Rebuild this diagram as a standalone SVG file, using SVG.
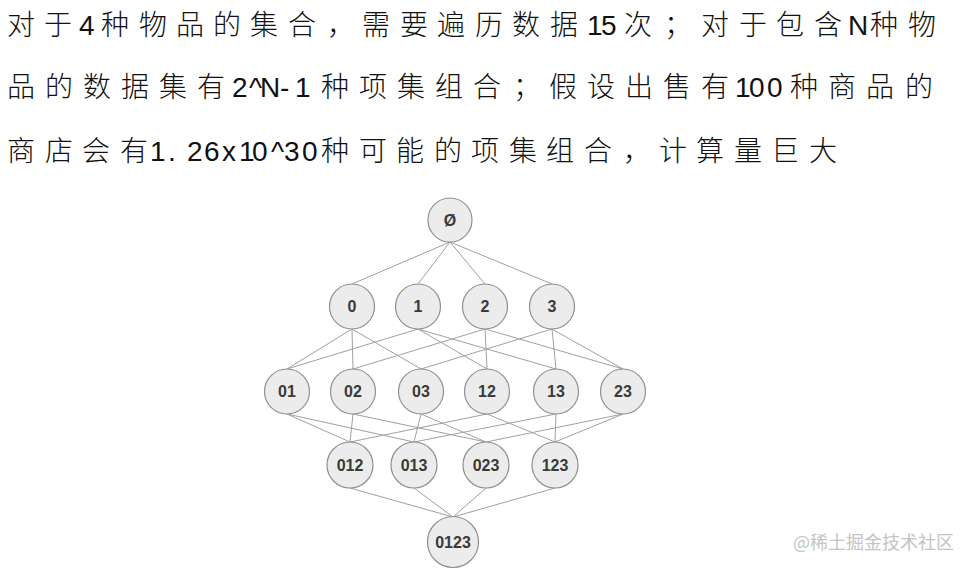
<svg xmlns="http://www.w3.org/2000/svg" width="970" height="571" viewBox="0 0 970 571">
<style>
.t{font-family:"Liberation Sans","Noto Sans CJK SC",sans-serif;font-size:28px;font-weight:300;fill:#111}
.n circle{fill:#ececec;stroke:#8f8f8f;stroke-width:1.2}
.n text{font-family:"Liberation Sans",Arial,sans-serif;font-size:16px;font-weight:bold;fill:#3a3a3a;text-anchor:middle;dominant-baseline:central}
.e line{stroke:#a0a0a0;stroke-width:1}
.wm{font-family:"Noto Sans CJK SC","Liberation Sans",sans-serif;font-size:18px;fill:#c4c4c4}
</style>
<rect width="970" height="571" fill="#ffffff"/>
<text class="t" y="35" x="7 44 79 101 139 176 213 250 288 327 362 400 437 475 512 550 587 601 624 664 701 739 776 814 848 870 908">对于4种物品的集合，需要遍历数据15次；对于包含N种物</text>
<text class="t" y="97" x="7 45 83 121 159 197 232 249 260 280 295 321 359 397 435 473 513 549 587 625 663 701 735 749 767 790 828 866 905">品的数据集有2^N-1种项集组合；假设出售有100种商品的</text>
<text class="t" y="161" x="7 45 82 120 150 168 187 204 222 239 252 271 284 302 321 359 396 434 471 509 546 584 623 659 696 734 771 809">商店会有1.26x10^30种可能的项集组合，计算量巨大</text>
<g id="connectors" class="e">
<line x1="450" y1="242" x2="352" y2="284"/>
<line x1="450" y1="242" x2="418" y2="284"/>
<line x1="450" y1="242" x2="485" y2="284"/>
<line x1="450" y1="242" x2="552" y2="284"/>
<line x1="352" y1="329" x2="287" y2="369"/>
<line x1="352" y1="329" x2="353" y2="369"/>
<line x1="352" y1="329" x2="421" y2="369"/>
<line x1="418" y1="329" x2="287" y2="369"/>
<line x1="418" y1="329" x2="487" y2="369"/>
<line x1="418" y1="329" x2="556" y2="369"/>
<line x1="485" y1="329" x2="353" y2="369"/>
<line x1="485" y1="329" x2="487" y2="369"/>
<line x1="485" y1="329" x2="623" y2="369"/>
<line x1="552" y1="329" x2="421" y2="369"/>
<line x1="552" y1="329" x2="556" y2="369"/>
<line x1="552" y1="329" x2="623" y2="369"/>
<line x1="287" y1="414" x2="350" y2="442"/>
<line x1="287" y1="414" x2="414" y2="442"/>
<line x1="353" y1="414" x2="350" y2="442"/>
<line x1="353" y1="414" x2="486" y2="442"/>
<line x1="421" y1="414" x2="414" y2="442"/>
<line x1="421" y1="414" x2="486" y2="442"/>
<line x1="487" y1="414" x2="350" y2="442"/>
<line x1="487" y1="414" x2="555" y2="442"/>
<line x1="556" y1="414" x2="414" y2="442"/>
<line x1="556" y1="414" x2="555" y2="442"/>
<line x1="623" y1="414" x2="486" y2="442"/>
<line x1="623" y1="414" x2="555" y2="442"/>
<line x1="350" y1="488" x2="453" y2="517"/>
<line x1="414" y1="488" x2="453" y2="517"/>
<line x1="486" y1="488" x2="453" y2="517"/>
<line x1="555" y1="488" x2="453" y2="517"/>
</g>
<g id="n_empty" class="n"><circle cx="450" cy="220" r="22"/><text x="450" y="220">Ø</text></g>
<g id="n_0" class="n"><circle cx="352" cy="306.5" r="22.5"/><text x="352" y="306.5">0</text></g>
<g id="n_1" class="n"><circle cx="418" cy="306.5" r="22.5"/><text x="418" y="306.5">1</text></g>
<g id="n_2" class="n"><circle cx="485" cy="306.5" r="22.5"/><text x="485" y="306.5">2</text></g>
<g id="n_3" class="n"><circle cx="552" cy="306.5" r="22.5"/><text x="552" y="306.5">3</text></g>
<g id="n_01" class="n"><circle cx="287" cy="391.5" r="22.5"/><text x="287" y="391.5">01</text></g>
<g id="n_02" class="n"><circle cx="353" cy="391.5" r="22.5"/><text x="353" y="391.5">02</text></g>
<g id="n_03" class="n"><circle cx="421" cy="391.5" r="22.5"/><text x="421" y="391.5">03</text></g>
<g id="n_12" class="n"><circle cx="487" cy="391.5" r="22.5"/><text x="487" y="391.5">12</text></g>
<g id="n_13" class="n"><circle cx="556" cy="391.5" r="22.5"/><text x="556" y="391.5">13</text></g>
<g id="n_23" class="n"><circle cx="623" cy="391.5" r="22.5"/><text x="623" y="391.5">23</text></g>
<g id="n_012" class="n"><circle cx="350" cy="465" r="23"/><text x="350" y="465">012</text></g>
<g id="n_013" class="n"><circle cx="414" cy="465" r="23"/><text x="414" y="465">013</text></g>
<g id="n_023" class="n"><circle cx="486" cy="465" r="23"/><text x="486" y="465">023</text></g>
<g id="n_123" class="n"><circle cx="555" cy="465" r="23"/><text x="555" y="465">123</text></g>
<g id="n_0123" class="n"><circle cx="453" cy="542" r="25.5"/><text x="453" y="542">0123</text></g>
<text class="wm" x="793" y="549">@稀土掘金技术社区</text>
</svg>
